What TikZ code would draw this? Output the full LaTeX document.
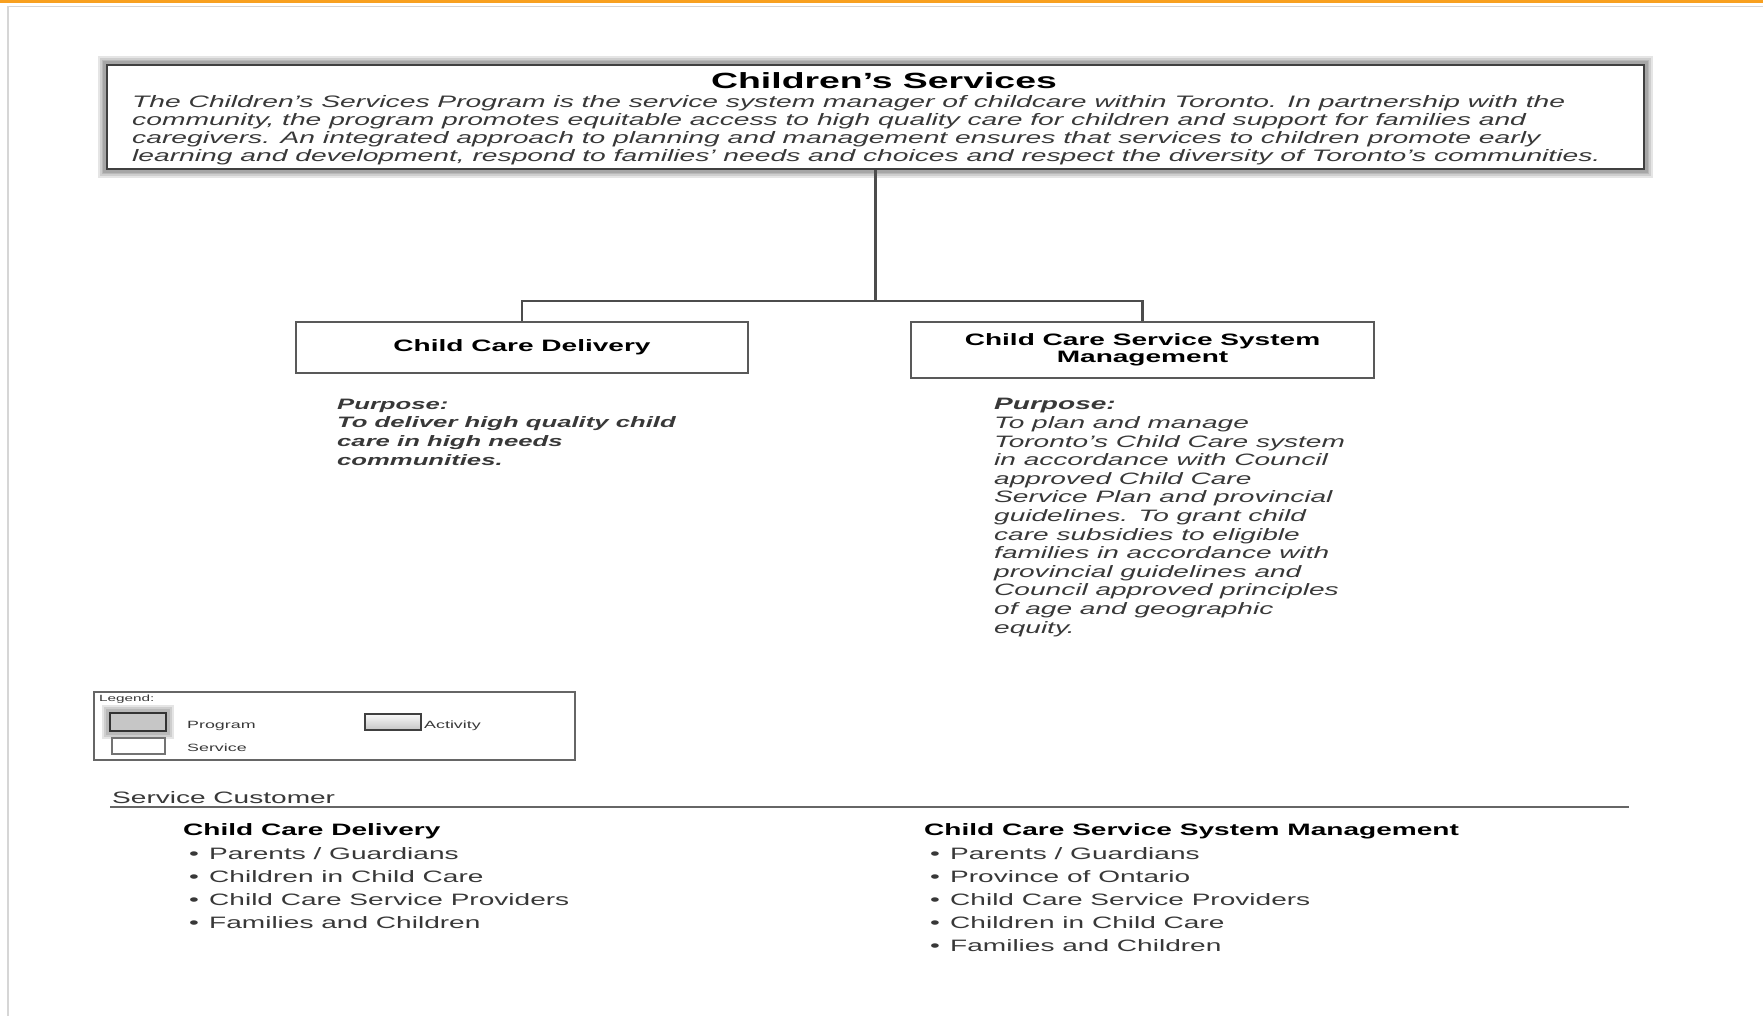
\documentclass[tikz,border=0pt]{standalone}
\usepackage{fontspec}
\setmainfont{Liberation Sans}[FakeStretch=1.7]
\usetikzlibrary{positioning,backgrounds}
\definecolor{barorange}{HTML}{F8A020}
\definecolor{framegray}{HTML}{D6D6D6}
\definecolor{inkgray}{HTML}{383838}
\tikzset{
  program/.style={draw=black!75, line width=2.5pt, fill=white, inner sep=0pt},
  service/.style={draw=black!65, line width=1.8pt, fill=white, inner sep=0pt,
    align=center, font=\bfseries\fontsize{16.5}{16.5}\selectfont},
  link/.style={draw=black!70, line width=2.2pt},
  glow/.style={draw=black, line width=#1pt, opacity=0.1},
  purpose/.style={inner sep=0pt, anchor=base west, align=left, text=inkgray,
    font=\itshape\fontsize{16.5}{18.6}\selectfont},
  listhead/.style={inner sep=0pt, anchor=base west, font=\bfseries\fontsize{16.5}{16.5}\selectfont},
  listitem/.style={inner sep=0pt, anchor=base west, text=inkgray, font=\fontsize{16.5}{16.5}\selectfont},
  legendtext/.style={inner sep=0pt, anchor=base west, text=inkgray, font=\fontsize{10.5}{10.5}\selectfont}
}

\begin{document}
\begin{tikzpicture}[x=1pt,y=-1pt]
\useasboundingbox (0,0) rectangle (1763,1016);

% page frame
\fill[barorange] (0,0) rectangle (1763,3.5);
\draw[framegray, line width=1.5pt] (8,1016) |- (1763,6.5);

% program box
\node[program, minimum width=1537pt, minimum height=104pt] (main) at (875.5,117) {};
\begin{scope}[on background layer]
  \foreach \w in {16,12,8,5}
    \draw[glow=\w] (main.south west) rectangle (main.north east);
\end{scope}
\node[inner sep=0pt, font=\bfseries\fontsize{22}{22}\selectfont] (title) at (884,81) {Children’s Services};
\node[inner sep=0pt, anchor=base west, align=left, text=inkgray,
  font=\itshape\fontsize{16.6}{18}\selectfont] (mission) at (132,162)
  {The Children’s Services Program is the service system manager of childcare within Toronto.  In partnership with the\\
   community, the program promotes equitable access to high quality care for children and support for families and\\
   caregivers. An integrated approach to planning and management ensures that services to children promote early\\
   learning and development, respond to families’ needs and choices and respect the diversity of Toronto’s communities.};

% services
\node[service, minimum width=452pt, minimum height=51pt] (cdd) at (522,347.5) {Child Care Delivery};
\node[service, minimum width=463pt, minimum height=56pt] (csm) at (1142.5,350) {Child Care Service System\\Management};

\coordinate (barline) at (0,301);
\coordinate (junction) at (main.south |- barline);
\draw[link] (main.south) -- (junction);
\draw[link] (cdd.north) |- (junction) -| (csm.north);

% purposes
\node[purpose, font=\bfseries\itshape\fontsize{15.1}{18.6}\selectfont] (cddpurpose) at (337,465)
  {Purpose:\\To deliver high quality child\\care in high needs\\communities.};
\node[purpose] (csmpurpose) at (994,633)
  {\textbf{Purpose:}\\To plan and manage\\Toronto’s Child Care system\\in accordance with Council\\approved Child Care\\Service Plan and provincial\\guidelines.  To grant child\\care subsidies to eligible\\families in accordance with\\provincial guidelines and\\Council approved principles\\of age and geographic\\equity.};

% legend
\node[draw=black!60, line width=1.5pt, minimum width=481pt, minimum height=68pt, inner sep=0pt] (legend) at (334.5,726) {};
\node[legendtext, font=\fontsize{9}{9}\selectfont] (legendhead) at (99,701) {Legend:};
\node[draw=black!80, line width=2.5pt, fill=gray!45, minimum width=56pt, minimum height=18pt, inner sep=0pt] (progicon) at (138,722) {};
\begin{scope}[on background layer]
  \foreach \w in {14,10,6}
    \draw[glow=\w] (progicon.south west) rectangle (progicon.north east);
\end{scope}
\node[draw=black!55, line width=1.2pt, minimum width=53pt, minimum height=16pt, inner sep=0pt] (servicon) at (138.5,746) {};
\node[draw=black!75, line width=1.6pt, top color=gray!5, bottom color=gray!45, minimum width=56pt, minimum height=16pt, inner sep=0pt] (acticon) at (393,722) {};
\node[legendtext] (progtext) at (187,728) {Program};
\node[legendtext] (servtext) at (187,751) {Service};
\node[legendtext] (acttext) at (424,728) {Activity};

% service customers
\node[listitem] (customers) at (112,803) {Service Customer};
\draw[black!60, line width=1.8pt] (110,807) -- (1629,807);

\node[listhead] (cddhead) at (183,835) {Child Care Delivery};
\foreach \who [count=\i] in {{Parents / Guardians},{Children in Child Care},{Child Care Service Providers},{Families and Children}}
  \node[listitem] (cdditem\i) at (189,836+23*\i) {\makebox[20pt][l]{\textbullet}\who};

\node[listhead] (csmhead) at (924,835) {Child Care Service System Management};
\foreach \who [count=\i] in {{Parents / Guardians},{Province of Ontario},{Child Care Service Providers},{Children in Child Care},{Families and Children}}
  \node[listitem] (csmitem\i) at (930,836+23*\i) {\makebox[20pt][l]{\textbullet}\who};

\end{tikzpicture}
\end{document}
